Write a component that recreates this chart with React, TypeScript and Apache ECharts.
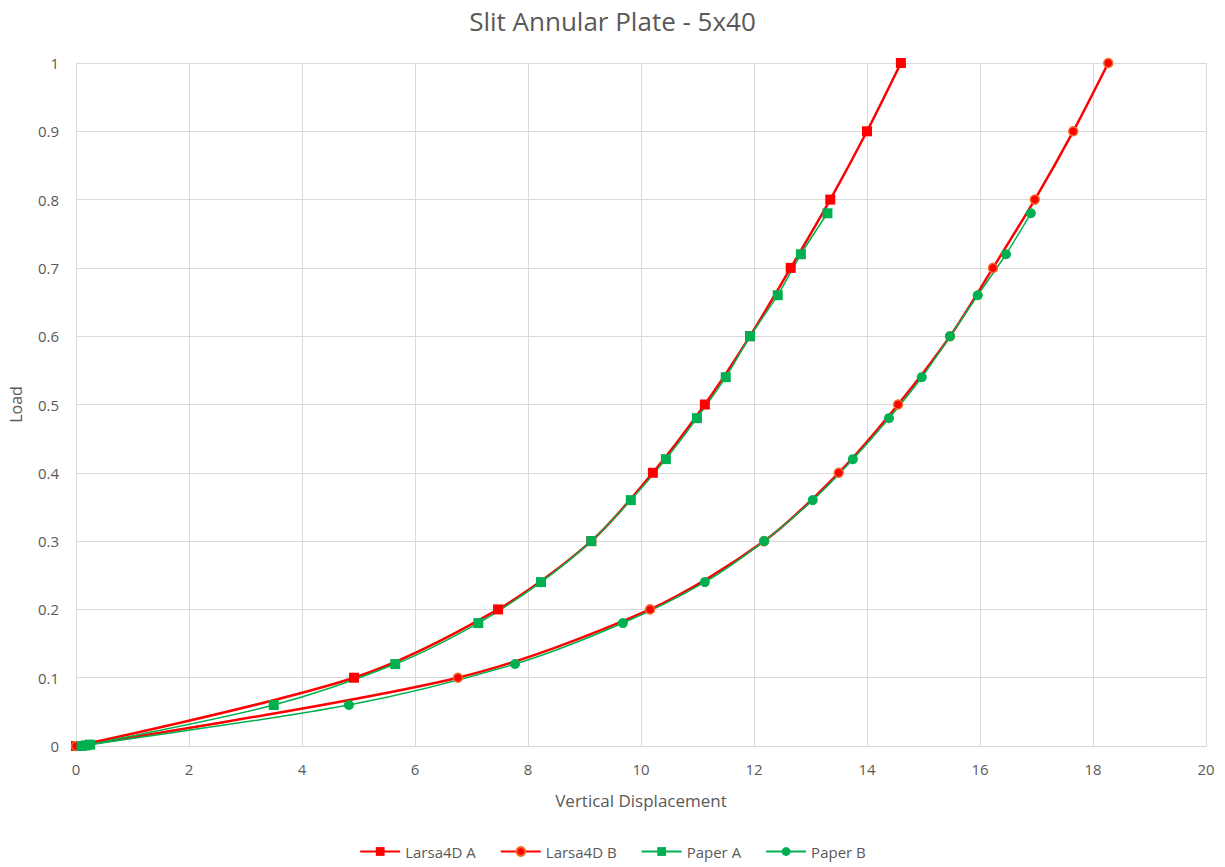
import React, { useEffect, useRef } from "react";
import * as echarts from "echarts";

const larsaA: [number, number][] = [
  [0, 0], [4.92, 0.1], [7.47, 0.2], [9.12, 0.3], [10.21, 0.4], [11.13, 0.5],
  [11.93, 0.6], [12.65, 0.7], [13.35, 0.8], [14.0, 0.9], [14.6, 1.0],
];
const larsaB: [number, number][] = [
  [0, 0], [6.76, 0.1], [10.16, 0.2], [12.18, 0.3], [13.5, 0.4], [14.55, 0.5],
  [15.47, 0.6], [16.23, 0.7], [16.97, 0.8], [17.65, 0.9], [18.27, 1.0],
];
const paperA: [number, number][] = [
  [0.1, 0.0], [0.18, 0.001], [0.25, 0.002], [3.5, 0.06], [5.65, 0.12], [7.12, 0.18],
  [8.23, 0.24], [9.12, 0.3], [9.82, 0.36], [10.44, 0.42], [10.99, 0.48],
  [11.5, 0.54], [11.93, 0.6], [12.42, 0.66], [12.83, 0.72], [13.3, 0.78],
];
const paperB: [number, number][] = [
  [0.1, 0.0], [0.18, 0.001], [0.25, 0.002], [4.83, 0.06], [7.77, 0.12], [9.68, 0.18],
  [11.13, 0.24], [12.18, 0.3], [13.04, 0.36], [13.75, 0.42], [14.39, 0.48],
  [14.97, 0.54], [15.47, 0.6], [15.96, 0.66], [16.46, 0.72], [16.9, 0.78],
];

const RED = "#FF0000";
const GREEN = "#00B050";
const TEXT = "#595959";
const FONT = "'Open Sans', 'Noto Sans', sans-serif";

export default function App() {
  const ref = useRef<HTMLDivElement>(null);
  useEffect(() => {
    if (!ref.current) return;
    const chart = echarts.init(ref.current, undefined, { renderer: "svg" });
    chart.setOption({
      animation: false,
      backgroundColor: "#ffffff",
      textStyle: { fontFamily: FONT },
      title: {
        text: "Slit Annular Plate - 5x40",
        left: "center",
        top: 3,
        textStyle: { fontFamily: FONT, fontSize: 26, fontWeight: "normal", color: TEXT },
      },
      legend: {
        bottom: 3,
        left: "center",
        itemWidth: 40,
        itemHeight: 11,
        itemGap: 24,
        textStyle: { fontFamily: FONT, fontSize: 15, color: TEXT },
        data: ["Larsa4D A", "Larsa4D B", "Paper A", "Paper B"],
      },
      grid: { left: 76, right: 19, top: 63, bottom: 121, containLabel: false },
      xAxis: {
        type: "value",
        min: 0,
        max: 20,
        interval: 2,
        name: "Vertical Displacement",
        nameLocation: "middle",
        nameGap: 46,
        nameTextStyle: { fontFamily: FONT, fontSize: 17, color: TEXT },
        axisLine: { show: true, lineStyle: { color: "#d9d9d9", width: 1 } },
        axisTick: { show: false },
        axisLabel: { fontFamily: FONT, fontSize: 15, color: TEXT, margin: 15 },
        splitLine: { show: true, lineStyle: { color: "#d9d9d9", width: 1 } },
      },
      yAxis: {
        type: "value",
        min: 0,
        max: 1,
        interval: 0.1,
        name: "Load",
        nameLocation: "middle",
        nameGap: 52,
        nameRotate: 90,
        nameTextStyle: { fontFamily: FONT, fontSize: 16, color: TEXT },
        axisLine: { show: true, lineStyle: { color: "#d9d9d9", width: 1 } },
        axisTick: { show: false },
        axisLabel: { fontFamily: FONT, fontSize: 15, color: TEXT, margin: 17 },
        splitLine: { show: true, lineStyle: { color: "#d9d9d9", width: 1 } },
      },
      series: [
        {
          name: "Larsa4D A",
          type: "line",
          data: larsaA,
          smooth: 0.3,
          symbol: "rect",
          symbolSize: 10,
          lineStyle: { color: RED, width: 2.5 },
          itemStyle: { color: RED },
        },
        {
          name: "Larsa4D B",
          type: "line",
          data: larsaB,
          smooth: 0.3,
          symbol: "circle",
          symbolSize: 9,
          lineStyle: { color: RED, width: 2.5 },
          itemStyle: { color: RED, borderColor: "#F26B2A", borderWidth: 1.5 },
        },
        {
          name: "Paper A",
          type: "line",
          data: paperA,
          smooth: 0.3,
          symbol: "rect",
          symbolSize: 10,
          lineStyle: { color: GREEN, width: 1.5 },
          itemStyle: { color: GREEN },
        },
        {
          name: "Paper B",
          type: "line",
          data: paperB,
          smooth: 0.3,
          symbol: "circle",
          symbolSize: 10,
          lineStyle: { color: GREEN, width: 1.5 },
          itemStyle: { color: GREEN },
        },
      ],
    });
    return () => chart.dispose();
  }, []);
  return <div ref={ref} style={{ width: 1225, height: 867, position: "absolute", left: 0, top: 0 }} />;
}
